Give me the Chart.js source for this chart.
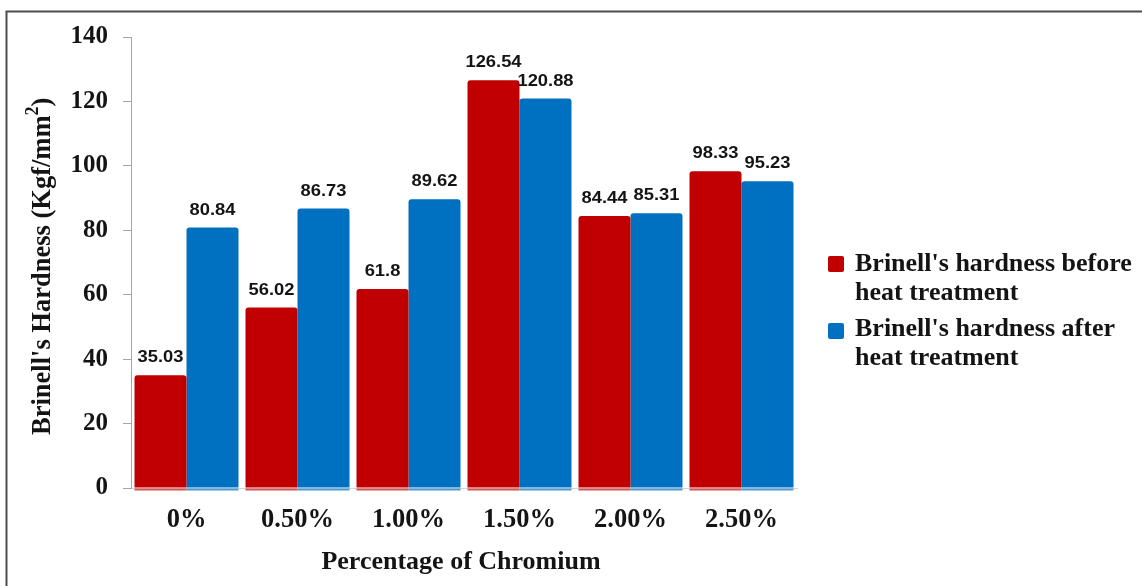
<!DOCTYPE html>
<html>
<head>
<meta charset="utf-8">
<script src="https://cdn.jsdelivr.net/npm/chart.js@4/dist/chart.umd.min.js"></script>
<style>
  html, body { margin: 0; padding: 0; background: #ffffff; }
  #wrap { width: 1142px; height: 586px; position: relative; }
</style>
</head>
<body>
<div id="wrap"><canvas id="chart" width="1142" height="586"></canvas></div>
<script>
// Chromium content of the alloy
const categories = ['0%', '0.50%', '1.00%', '1.50%', '2.00%', '2.50%'];
// Brinell hardness (Kgf/mm²)
const beforeHeat = [35.03, 56.02, 61.8, 126.54, 84.44, 98.33];
const afterHeat = [80.84, 86.73, 89.62, 120.88, 85.31, 95.23];
const seriesNames = ["Brinell's hardness before heat treatment", "Brinell's hardness after heat treatment"];
const legendLines = [["Brinell's hardness before", "heat treatment"], ["Brinell's hardness after", "heat treatment"]];
const yTicks = [0, 20, 40, 60, 80, 100, 120, 140];

const RED = '#C00000';
const BLUE = '#0070C0';
const SERIF = '"Liberation Serif", "Times New Roman", serif';
const SANS = '"Liberation Sans", Arial, sans-serif';
const TEXT = '#141414';

// Frame, value labels, axis titles and the two-line legend
const decorations = {
  id: 'decorations',
  beforeDraw(chart) {
    const ctx = chart.ctx;
    ctx.save();
    ctx.fillStyle = '#ffffff';
    ctx.fillRect(0, 0, chart.width, chart.height);
    ctx.strokeStyle = '#4d4d4d';
    ctx.lineWidth = 2;
    ctx.beginPath();
    ctx.moveTo(6.5, chart.height + 2);
    ctx.lineTo(6.5, 11.5);
    ctx.lineTo(chart.width + 2, 11.5);
    ctx.stroke();
    ctx.restore();
  },
  afterDatasetsDraw(chart) {
    const ctx = chart.ctx;
    ctx.save();
    const tints = ['#d9534f', '#4a9ad8'];
    chart.data.datasets.forEach((ds, di) => {
      const meta = chart.getDatasetMeta(di);
      meta.data.forEach((bar, i) => {
        const w = bar.width;
        // light strip just under the base of each bar
        ctx.fillStyle = tints[di];
        ctx.fillRect(bar.x - w / 2, bar.base + 1, w, 2);
        // value label, slightly widened
        ctx.save();
        ctx.translate(bar.x, bar.y - 13);
        ctx.scale(1.08, 1);
        ctx.fillStyle = TEXT;
        ctx.font = 'bold 17px ' + SANS;
        ctx.textAlign = 'center';
        ctx.textBaseline = 'alphabetic';
        ctx.fillText(String(ds.data[i]), 0, 0);
        ctx.restore();
      });
    });
    ctx.restore();
  },
  afterDraw(chart) {
    const ctx = chart.ctx;
    const area = chart.chartArea;
    ctx.save();
    ctx.fillStyle = TEXT;

    // x-axis title
    ctx.font = 'bold 26px ' + SERIF;
    ctx.textAlign = 'center';
    ctx.textBaseline = 'alphabetic';
    ctx.fillText('Percentage of Chromium', (area.left + area.right) / 2 - 3, 569);

    // y-axis title with superscript
    ctx.save();
    ctx.translate(50, 435);
    ctx.rotate(-Math.PI / 2);
    ctx.textAlign = 'left';
    ctx.font = 'bold 26.5px ' + SERIF;
    const main = "Brinell's Hardness (Kgf/mm";
    ctx.fillText(main, 0, 0);
    let x = ctx.measureText(main).width;
    ctx.font = 'bold 18px ' + SERIF;
    ctx.fillText('2', x, -12);
    x += ctx.measureText('2').width;
    ctx.font = 'bold 26.5px ' + SERIF;
    ctx.fillText(')', x, 0);
    ctx.restore();

    // legend
    const colors = chart.data.datasets.map(d => d.backgroundColor);
    const boxTop = [256, 323];
    const baselines = [[271, 299.5], [336, 364.5]];
    legendLines.forEach((lines, k) => {
      ctx.fillStyle = colors[k];
      ctx.beginPath();
      ctx.roundRect(828, boxTop[k], 16, 16, 2);
      ctx.fill();
      ctx.fillStyle = TEXT;
      ctx.font = 'bold 26px ' + SERIF;
      ctx.textAlign = 'left';
      lines.forEach((ln, j) => ctx.fillText(ln, 855, baselines[k][j]));
    });
    ctx.restore();
  }
};

new Chart(document.getElementById('chart'), {
  type: 'bar',
  data: {
    labels: categories,
    datasets: [
      { label: seriesNames[0], data: beforeHeat, backgroundColor: RED },
      { label: seriesNames[1], data: afterHeat, backgroundColor: BLUE }
    ]
  },
  options: {
    responsive: false,
    animation: false,
    devicePixelRatio: 1,
    layout: { padding: { left: 0, right: 345, top: 37, bottom: 0 } },
    datasets: {
      bar: {
        categoryPercentage: 0.937,
        barPercentage: 1.0,
        borderRadius: { topLeft: 3, topRight: 3, bottomLeft: 0, bottomRight: 0 },
        borderSkipped: 'bottom'
      }
    },
    plugins: {
      legend: { display: false },
      tooltip: { enabled: false },
      title: { display: false }
    },
    scales: {
      x: {
        grid: { display: false, drawTicks: false },
        border: { display: true, color: '#d4d4d4', width: 1 },
        ticks: {
          color: TEXT,
          font: { family: SERIF, size: 26.5, weight: 'bold' },
          padding: 16
        },
        afterFit(scale) { scale.height = 98; }
      },
      y: {
        min: 0,
        max: 140,
        afterBuildTicks(scale) { scale.ticks = yTicks.map(v => ({ value: v })); },
        grid: { drawOnChartArea: false, drawTicks: true, tickLength: 8, color: '#a6a6a6' },
        border: { display: true, color: '#a6a6a6', width: 1 },
        ticks: {
          color: TEXT,
          font: { family: SERIF, size: 25, weight: 'bold' },
          padding: 15
        },
        afterFit(scale) { scale.width = 131; }
      }
    }
  },
  plugins: [decorations]
});
</script>
</body>
</html>
